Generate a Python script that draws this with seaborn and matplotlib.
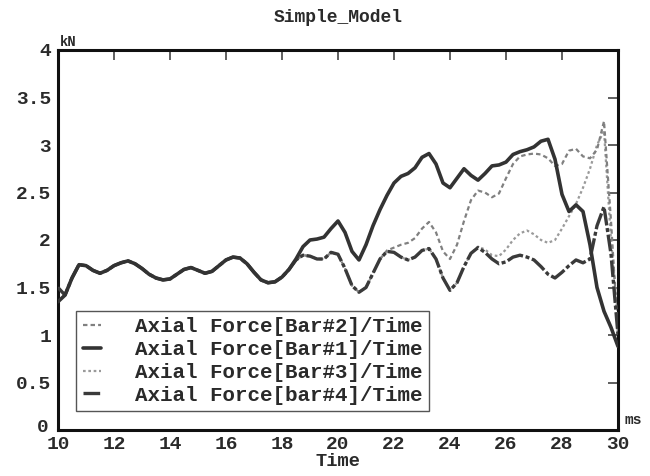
import matplotlib
matplotlib.use("Agg")
import matplotlib.pyplot as plt
import matplotlib.transforms as mtransforms
import seaborn as sns
import pandas as pd

time_ms = [10.0, 10.25, 10.5, 10.75, 11.0, 11.25, 11.5, 11.75, 12.0, 12.25,
           12.5, 12.75, 13.0, 13.25, 13.5, 13.75, 14.0, 14.25, 14.5, 14.75,
           15.0, 15.25, 15.5, 15.75, 16.0, 16.25, 16.5, 16.75, 17.0, 17.25,
           17.5, 17.75, 18.0, 18.25, 18.5, 18.75, 19.0, 19.25, 19.5, 19.75,
           20.0, 20.25, 20.5, 20.75, 21.0, 21.25, 21.5, 21.75, 22.0, 22.25,
           22.5, 22.75, 23.0, 23.25, 23.5, 23.75, 24.0, 24.25, 24.5, 24.75,
           25.0, 25.25, 25.5, 25.75, 26.0, 26.25, 26.5, 26.75, 27.0, 27.25,
           27.5, 27.75, 28.0, 28.25, 28.5, 28.75, 29.0, 29.25, 29.5, 29.75, 30.0]

bar1 = [1.35, 1.42, 1.60, 1.74, 1.73, 1.68, 1.65, 1.68, 1.73, 1.76,
        1.78, 1.75, 1.70, 1.64, 1.60, 1.58, 1.59, 1.64, 1.69, 1.71,
        1.68, 1.65, 1.67, 1.73, 1.79, 1.82, 1.81, 1.75, 1.66, 1.58,
        1.55, 1.56, 1.61, 1.69, 1.80, 1.93, 2.00, 2.01, 2.03, 2.12,
        2.20, 2.08, 1.88, 1.79, 1.95, 2.15, 2.32, 2.47, 2.60, 2.67,
        2.70, 2.76, 2.87, 2.91, 2.80, 2.60, 2.55, 2.65, 2.75, 2.68,
        2.63, 2.70, 2.78, 2.79, 2.82, 2.90, 2.93, 2.95, 2.98, 3.04,
        3.06, 2.85, 2.48, 2.30, 2.37, 2.30, 1.95, 1.50, 1.25, 1.08, 0.88]

bar2 = [1.50, 1.42, 1.60, 1.74, 1.73, 1.68, 1.65, 1.68, 1.73, 1.76,
        1.78, 1.75, 1.70, 1.64, 1.60, 1.58, 1.59, 1.64, 1.69, 1.71,
        1.68, 1.65, 1.67, 1.73, 1.79, 1.82, 1.81, 1.75, 1.66, 1.58,
        1.55, 1.56, 1.61, 1.69, 1.79, 1.84, 1.83, 1.80, 1.80, 1.87,
        1.85, 1.70, 1.52, 1.45, 1.50, 1.65, 1.80, 1.89, 1.92, 1.95,
        1.97, 2.02, 2.12, 2.19, 2.08, 1.88, 1.80, 1.95, 2.20, 2.42,
        2.52, 2.50, 2.45, 2.49, 2.65, 2.80, 2.88, 2.90, 2.91, 2.90,
        2.86, 2.78, 2.80, 2.94, 2.96, 2.88, 2.86, 2.95, 3.25, 2.20, 1.00]

bar3 = [1.50, 1.42, 1.60, 1.74, 1.73, 1.68, 1.65, 1.68, 1.73, 1.76,
        1.78, 1.75, 1.70, 1.64, 1.60, 1.58, 1.59, 1.64, 1.69, 1.71,
        1.68, 1.65, 1.67, 1.73, 1.79, 1.82, 1.81, 1.75, 1.66, 1.58,
        1.55, 1.56, 1.61, 1.69, 1.79, 1.84, 1.83, 1.80, 1.80, 1.87,
        1.85, 1.70, 1.52, 1.45, 1.50, 1.65, 1.80, 1.88, 1.87, 1.82,
        1.79, 1.82, 1.89, 1.91, 1.80, 1.60, 1.47, 1.55, 1.72, 1.86,
        1.93, 1.90, 1.84, 1.83, 1.90, 2.00, 2.07, 2.10, 2.06, 2.00,
        1.97, 2.00, 2.12, 2.25, 2.38, 2.55, 2.75, 3.00, 3.15, 2.00, 1.20]

bar4 = [1.50, 1.42, 1.60, 1.74, 1.73, 1.68, 1.65, 1.68, 1.73, 1.76,
        1.78, 1.75, 1.70, 1.64, 1.60, 1.58, 1.59, 1.64, 1.69, 1.71,
        1.68, 1.65, 1.67, 1.73, 1.79, 1.82, 1.81, 1.75, 1.66, 1.58,
        1.55, 1.56, 1.61, 1.69, 1.79, 1.84, 1.83, 1.80, 1.80, 1.87,
        1.85, 1.70, 1.52, 1.45, 1.50, 1.65, 1.80, 1.88, 1.87, 1.82,
        1.79, 1.82, 1.89, 1.91, 1.80, 1.60, 1.47, 1.55, 1.72, 1.86,
        1.92, 1.87, 1.80, 1.75, 1.77, 1.82, 1.84, 1.82, 1.79, 1.72,
        1.64, 1.60, 1.66, 1.73, 1.79, 1.76, 1.80, 2.15, 2.35, 1.85, 1.00]

labels = ["Axial Force[Bar#2]/Time", "Axial Force[Bar#1]/Time",
          "Axial Force[Bar#3]/Time", "Axial Force[bar#4]/Time"]
x_ticks = [10, 12, 14, 16, 18, 20, 22, 24, 26, 28, 30]
y_ticks = [0, 0.5, 1, 1.5, 2, 2.5, 3, 3.5, 4]
y_ticklabels = ["0", "0.5", "1", "1.5", "2", "2.5", "3", "3.5", "4"]

sns.set_style("white")
plt.rcParams["font.family"] = ["Liberation Mono", "DejaVu Sans Mono"]
plt.rcParams["font.weight"] = "bold"
txt = "#2a2a2a"

fig = plt.figure(figsize=(6.5, 4.76), dpi=100)
ax = fig.add_axes([58 / 650, 46 / 476, 560 / 650, 380 / 476])

series = {labels[0]: bar2, labels[1]: bar1, labels[2]: bar3, labels[3]: bar4}
styles = {
    labels[2]: dict(color="#9a9a9a", linestyle=(0, (1.2, 1.2)), linewidth=1.6, zorder=2),
    labels[0]: dict(color="#808080", linestyle=(0, (2.0, 1.4)), linewidth=1.6, zorder=3),
    labels[3]: dict(color="#3a3a3a", linestyle=(0, (5, 0.8, 1.2, 0.8)), linewidth=2.4, zorder=4),
    labels[1]: dict(color="#333333", linestyle="-", linewidth=2.6, zorder=5),
}
for lab in [labels[2], labels[0], labels[3], labels[1]]:
    df = pd.DataFrame({"Time": time_ms, "Force": series[lab]})
    sns.lineplot(data=df, x="Time", y="Force", ax=ax, label=lab, **styles[lab])

ax.set_xlim(10, 30)
ax.set_ylim(0, 4)
ax.set_xticks(x_ticks)
ax.set_yticks(y_ticks)
ax.set_yticklabels(y_ticklabels)
ax.tick_params(direction="in", length=7, width=1.2, top=True, right=True,
               labelsize=14, colors="#444444", labelcolor=txt)
ax.tick_params(axis="x", pad=4)
ax.tick_params(axis="y", pad=5)
# lift the "0" label slightly as in the reference
lab0 = ax.get_yticklabels()[0]
lab0.set_transform(lab0.get_transform() + mtransforms.ScaledTranslation(-2 / 100, 5 / 100, fig.dpi_scale_trans))
for s in ax.spines.values():
    s.set_linewidth(2.2)
    s.set_color("#111111")
ax.set_ylabel("")
ax.set_xlabel("Time", fontsize=13.5, fontweight="bold", color=txt, labelpad=0)
ax.set_title("Simple_Model", fontsize=13, fontweight="bold", color=txt, pad=20)
ax.text(0.004, 1.003, "kN", transform=ax.transAxes, fontsize=10, fontweight="bold",
        color=txt, ha="left", va="bottom")
ax.text(1.012, 0.008, "ms", transform=ax.transAxes, fontsize=10.5, fontweight="bold",
        color=txt, ha="left", va="bottom")

handles, labs = ax.get_legend_handles_labels()
order = [labs.index(l) for l in labels]
leg = ax.legend([handles[i] for i in order], [labs[i] for i in order],
                loc="lower left", bbox_to_anchor=(0.033, 0.05), fontsize=15,
                handlelength=0.9, handletextpad=1.6, labelspacing=0.18,
                borderpad=0.3, borderaxespad=0, frameon=True, fancybox=False, framealpha=1)
leg.get_frame().set_edgecolor("#555555")
leg.get_frame().set_linewidth(1.0)
for t in leg.get_texts():
    t.set_color(txt)
    t.set_fontweight("bold")

fig.savefig("out.png", dpi=100)
